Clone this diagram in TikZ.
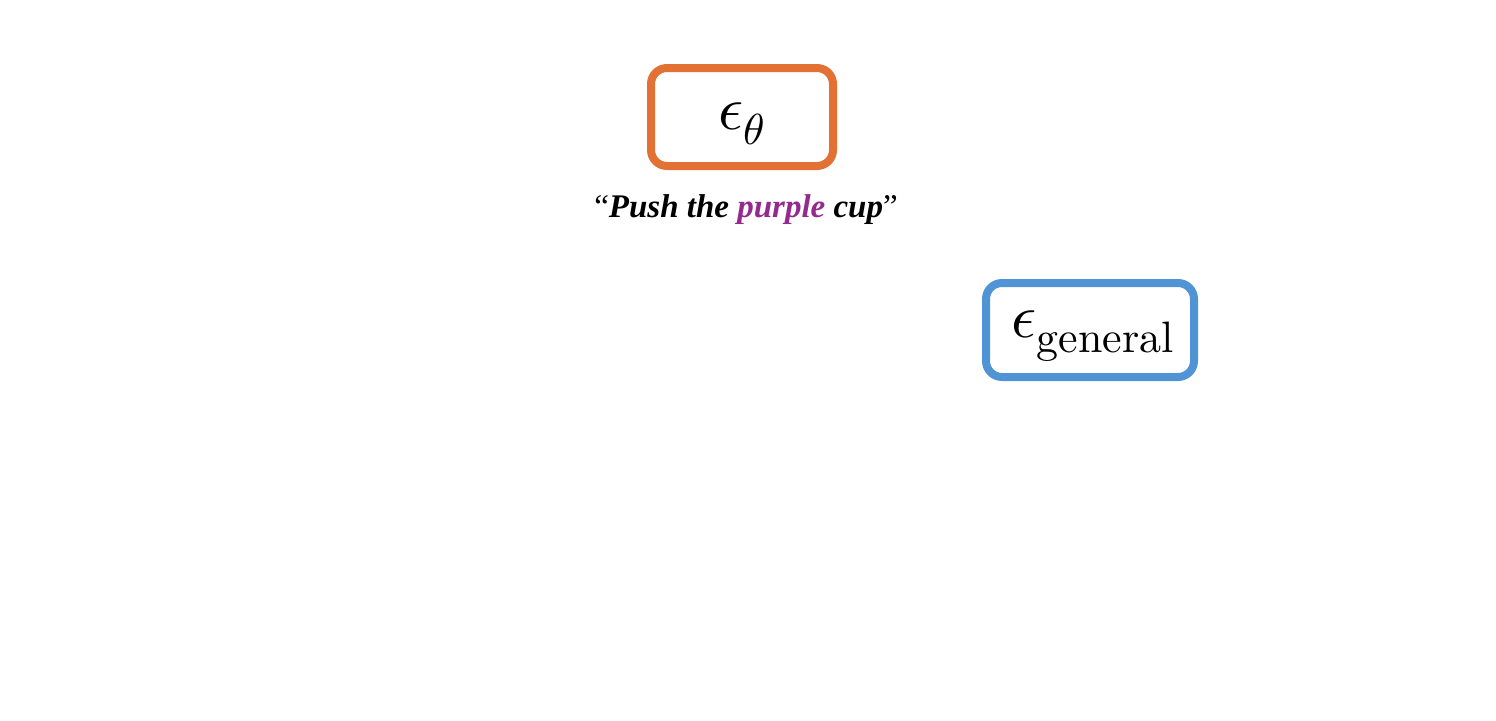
\documentclass[tikz,border=0pt]{standalone}
\usepackage{fontspec}
\usepackage{unicode-math}
\setmathfont{Latin Modern Math}
\newfontfamily\timesfont{Liberation Serif}
\newfontfamily\lmten{lmroman10-regular.otf}
\definecolor{boxorange}{HTML}{E27133}
\definecolor{boxblue}{HTML}{5094D6}
\definecolor{cuppurple}{HTML}{952A8E}
\begin{document}
\begin{tikzpicture}[x=1pt,y=-1pt,
  netbox/.style={line width=8pt, rounded corners=16pt}]
\useasboundingbox (0,0) rectangle (1496,720);
\fill[white] (0,0) rectangle (1496,720);
\draw[netbox, draw=boxorange, fill=white] (651,68) rectangle (833,166);
\node (theta) at (742,124) {\fontsize{62}{70}\selectfont $\epsilon_\theta$};
\draw[netbox, draw=boxblue, fill=white] (986,283) rectangle (1194,377);
\node (general) at (1093,336) {\fontsize{62}{66}\selectfont $\epsilon_{\mbox{\lmten\fontsize{44}{48}\selectfont general}}$};
\node (prompt) at (746,210) {\fontsize{33}{40}\selectfont\timesfont “{\bfseries\itshape Push the \textcolor{cuppurple}{purple} cup}”};
\end{tikzpicture}
\end{document}
